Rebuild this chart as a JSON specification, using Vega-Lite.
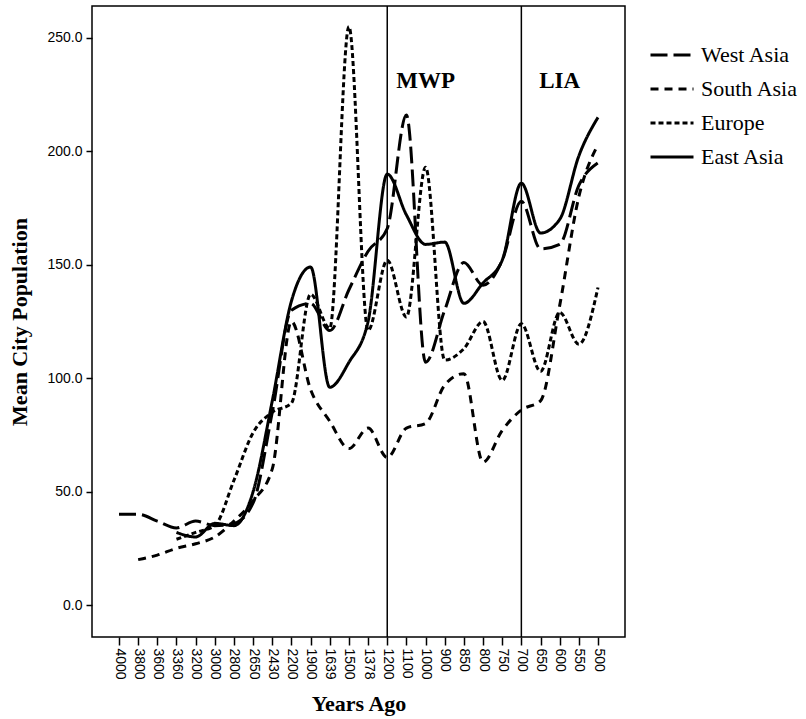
{
  "$schema": "https://vega.github.io/schema/vega-lite/v6.json",
  "width": 533,
  "height": 631,
  "autosize": "none",
  "padding": {"left": 92, "top": 6, "right": 181, "bottom": 82},
  "background": "white",
  "config": {"view": {"stroke": "black", "strokeWidth": 1.5}, "font": "Liberation Sans"},
  "datasets": {
    "pop": [
      {"year": "4000", "region": "West Asia", "pop": 40},
      {"year": "3800", "region": "West Asia", "pop": 40},
      {"year": "3600", "region": "West Asia", "pop": 37},
      {"year": "3360", "region": "West Asia", "pop": 34},
      {"year": "3200", "region": "West Asia", "pop": 37},
      {"year": "3000", "region": "West Asia", "pop": 35},
      {"year": "2800", "region": "West Asia", "pop": 36},
      {"year": "2650", "region": "West Asia", "pop": 45},
      {"year": "2430", "region": "West Asia", "pop": 85},
      {"year": "2200", "region": "West Asia", "pop": 130},
      {"year": "1900", "region": "West Asia", "pop": 133},
      {"year": "1639", "region": "West Asia", "pop": 121},
      {"year": "1500", "region": "West Asia", "pop": 139},
      {"year": "1378", "region": "West Asia", "pop": 156},
      {"year": "1200", "region": "West Asia", "pop": 166},
      {"year": "1100", "region": "West Asia", "pop": 216},
      {"year": "1000", "region": "West Asia", "pop": 107},
      {"year": "900", "region": "West Asia", "pop": 130},
      {"year": "850", "region": "West Asia", "pop": 151},
      {"year": "800", "region": "West Asia", "pop": 141},
      {"year": "750", "region": "West Asia", "pop": 152},
      {"year": "700", "region": "West Asia", "pop": 178},
      {"year": "650", "region": "West Asia", "pop": 157},
      {"year": "600", "region": "West Asia", "pop": 159},
      {"year": "550", "region": "West Asia", "pop": 185},
      {"year": "500", "region": "West Asia", "pop": 195},
      {"year": "3800", "region": "South Asia", "pop": 20},
      {"year": "3600", "region": "South Asia", "pop": 22},
      {"year": "3360", "region": "South Asia", "pop": 25},
      {"year": "3200", "region": "South Asia", "pop": 27},
      {"year": "3000", "region": "South Asia", "pop": 30},
      {"year": "2800", "region": "South Asia", "pop": 37},
      {"year": "2650", "region": "South Asia", "pop": 46},
      {"year": "2430", "region": "South Asia", "pop": 60},
      {"year": "2200", "region": "South Asia", "pop": 125},
      {"year": "1900", "region": "South Asia", "pop": 95},
      {"year": "1639", "region": "South Asia", "pop": 81},
      {"year": "1500", "region": "South Asia", "pop": 69},
      {"year": "1378", "region": "South Asia", "pop": 78},
      {"year": "1200", "region": "South Asia", "pop": 65},
      {"year": "1100", "region": "South Asia", "pop": 78},
      {"year": "1000", "region": "South Asia", "pop": 80},
      {"year": "900", "region": "South Asia", "pop": 97},
      {"year": "850", "region": "South Asia", "pop": 102},
      {"year": "800", "region": "South Asia", "pop": 63},
      {"year": "750", "region": "South Asia", "pop": 77},
      {"year": "700", "region": "South Asia", "pop": 86},
      {"year": "650", "region": "South Asia", "pop": 90},
      {"year": "600", "region": "South Asia", "pop": 132},
      {"year": "550", "region": "South Asia", "pop": 180},
      {"year": "500", "region": "South Asia", "pop": 203},
      {"year": "3360", "region": "Europe", "pop": 29},
      {"year": "3200", "region": "Europe", "pop": 32},
      {"year": "3000", "region": "Europe", "pop": 35},
      {"year": "2800", "region": "Europe", "pop": 55},
      {"year": "2650", "region": "Europe", "pop": 76},
      {"year": "2430", "region": "Europe", "pop": 85},
      {"year": "2200", "region": "Europe", "pop": 89},
      {"year": "1900", "region": "Europe", "pop": 137},
      {"year": "1639", "region": "Europe", "pop": 122},
      {"year": "1500", "region": "Europe", "pop": 255},
      {"year": "1378", "region": "Europe", "pop": 121},
      {"year": "1200", "region": "Europe", "pop": 152},
      {"year": "1100", "region": "Europe", "pop": 127},
      {"year": "1000", "region": "Europe", "pop": 193},
      {"year": "900", "region": "Europe", "pop": 108},
      {"year": "850", "region": "Europe", "pop": 113},
      {"year": "800", "region": "Europe", "pop": 125},
      {"year": "750", "region": "Europe", "pop": 99},
      {"year": "700", "region": "Europe", "pop": 124},
      {"year": "650", "region": "Europe", "pop": 103},
      {"year": "600", "region": "Europe", "pop": 129},
      {"year": "550", "region": "Europe", "pop": 115},
      {"year": "500", "region": "Europe", "pop": 140},
      {"year": "3360", "region": "East Asia", "pop": 32},
      {"year": "3200", "region": "East Asia", "pop": 30},
      {"year": "3000", "region": "East Asia", "pop": 36},
      {"year": "2800", "region": "East Asia", "pop": 35},
      {"year": "2650", "region": "East Asia", "pop": 50},
      {"year": "2430", "region": "East Asia", "pop": 90},
      {"year": "2200", "region": "East Asia", "pop": 134},
      {"year": "1900", "region": "East Asia", "pop": 149},
      {"year": "1639", "region": "East Asia", "pop": 96},
      {"year": "1500", "region": "East Asia", "pop": 107},
      {"year": "1378", "region": "East Asia", "pop": 125},
      {"year": "1200", "region": "East Asia", "pop": 190},
      {"year": "1100", "region": "East Asia", "pop": 172},
      {"year": "1000", "region": "East Asia", "pop": 159},
      {"year": "900", "region": "East Asia", "pop": 160},
      {"year": "850", "region": "East Asia", "pop": 133},
      {"year": "800", "region": "East Asia", "pop": 142},
      {"year": "750", "region": "East Asia", "pop": 152},
      {"year": "700", "region": "East Asia", "pop": 186},
      {"year": "650", "region": "East Asia", "pop": 164},
      {"year": "600", "region": "East Asia", "pop": 170},
      {"year": "550", "region": "East Asia", "pop": 198},
      {"year": "500", "region": "East Asia", "pop": 215}
    ],
    "periods": [{"year": "1200"}, {"year": "700"}],
    "labels": [
      {"year": "1000", "pop": 231, "label": "MWP"},
      {"year": "600", "pop": 231, "label": "LIA"}
    ]
  },
  "layer": [
    {
      "data": {"name": "pop"},
      "mark": {"type": "line", "interpolate": "monotone", "strokeWidth": 3, "color": "black"},
      "encoding": {
        "x": {
          "field": "year", "type": "ordinal",
          "scale": {"type": "point", "range": [27, 506], "padding": 0, "domain": ["4000","3800","3600","3360","3200","3000","2800","2650","2430","2200","1900","1639","1500","1378","1200","1100","1000","900","850","800","750","700","650","600","550","500"]},
          "axis": {
            "title": "Years Ago", "titleFont": "Liberation Serif", "titleFontWeight": "bold", "titleFontSize": 22, "titleColor": "black", "titlePadding": 14,
            "labelAngle": 90, "labelFont": "Liberation Sans", "labelFontSize": 14, "labelColor": "black", "labelPadding": 3,
            "tickColor": "black", "tickSize": 8, "tickWidth": 1.5, "domain": false, "grid": false
          }
        },
        "y": {
          "field": "pop", "type": "quantitative",
          "scale": {"domain": [-14.1, 264.1], "nice": false, "zero": false},
          "axis": {
            "title": "Mean City Population", "titleFont": "Liberation Serif", "titleFontWeight": "bold", "titleFontSize": 22, "titleColor": "black", "titlePadding": 15,
            "values": [0, 50, 100, 150, 200, 250], "format": ".1f",
            "labelFont": "Liberation Sans", "labelFontSize": 14, "labelColor": "black", "labelPadding": 4,
            "tickColor": "black", "tickSize": 6, "tickWidth": 1.5, "domain": false, "grid": false
          }
        },
        "strokeDash": {
          "field": "region", "type": "nominal",
          "scale": {"domain": ["West Asia", "South Asia", "Europe", "East Asia"], "range": [[17, 6], [8, 6], [5, 3], [1, 0]]},
          "legend": {
            "title": null, "orient": "none", "legendX": 557, "legendY": 26,
            "symbolType": "stroke", "symbolSize": 1849, "symbolStrokeWidth": 3, "symbolStrokeColor": "black",
            "labelFont": "Liberation Serif", "labelFontSize": 22, "labelColor": "black", "labelOffset": 6, "rowPadding": 0
          }
        }
      }
    },
    {
      "data": {"name": "periods"},
      "mark": {"type": "rule", "color": "black", "strokeWidth": 1.5},
      "encoding": {"x": {"field": "year", "type": "ordinal"}}
    },
    {
      "data": {"name": "labels"},
      "mark": {"type": "text", "font": "Liberation Serif", "fontWeight": "bold", "fontSize": 23, "color": "black", "align": "center", "baseline": "middle"},
      "encoding": {
        "x": {"field": "year", "type": "ordinal"},
        "y": {"field": "pop", "type": "quantitative"},
        "text": {"field": "label"}
      }
    }
  ]
}
